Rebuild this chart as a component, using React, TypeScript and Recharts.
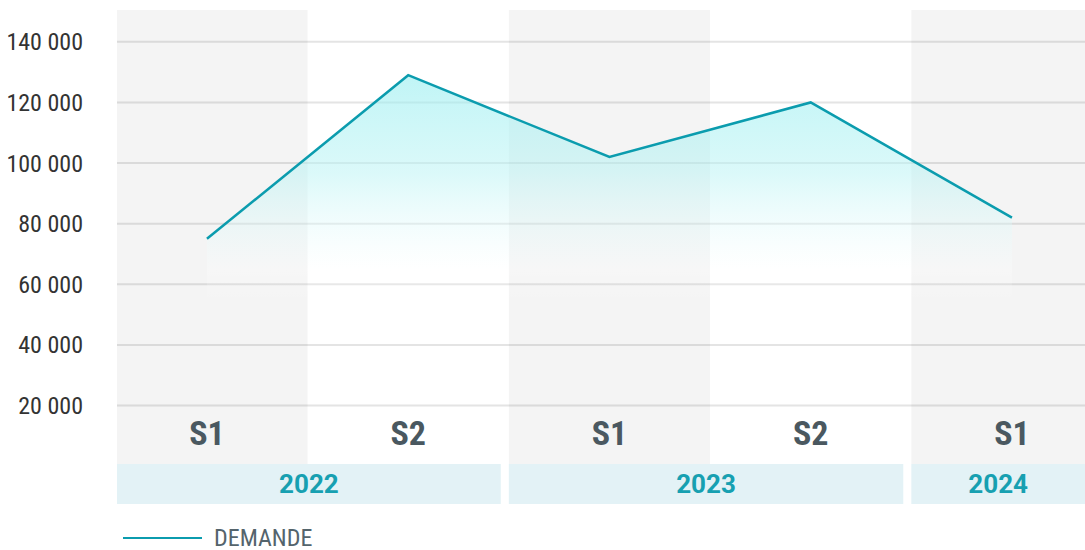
import {
  ComposedChart,
  Area,
  XAxis,
  YAxis,
  CartesianGrid,
  ReferenceArea,
  Legend,
} from "recharts";

// semesters, in display order
const semesters = ["S1", "S2", "S1", "S2", "S1"];
const semesterYears = [2022, 2022, 2023, 2023, 2024];
const demande = [75000, 129000, 102000, 120000, 82000];

const years = [2022, 2023, 2024];
const yTicks = [20000, 40000, 60000, 80000, 100000, 120000, 140000];

const data = semesters.map((s, i) => ({
  idx: i,
  semester: s,
  year: semesterYears[i],
  demande: demande[i],
}));

// x domain is a bit wider than the points so the outer bands get cut off
const X_MIN = -0.447;
const X_MAX = 4.363;
const Y_MIN = -12500;
const Y_MAX = 150500;
const BAND_FLOOR = 700;
const YEAR_GAP = 0.04;

const LINE = "#0b9cae";
const FONT = "Roboto, 'Noto Sans', sans-serif";

const fmt = (v: number) => v.toLocaleString("fr-FR").replace(/\u202f|\u00a0/g, " ");

function SemesterTick({ x, y, payload }: { x?: number; y?: number; payload?: { value: number } }) {
  const label = semesters[payload?.value ?? 0];
  return (
    <text
      x={x}
      y={(y ?? 0) - 71}
      textAnchor="middle"
      dominantBaseline="central"
      fill="#4a5860"
      fontSize={34}
      fontWeight={700}
      fontFamily={FONT}
      style={{ fontStretch: "condensed" }}
    >
      {label}
    </text>
  );
}

function LegendContent() {
  return (
    <div style={{ height: 26, position: "relative", fontFamily: FONT }}>
      <div
        style={{
          position: "absolute",
          left: 123,
          top: 13,
          width: 79,
          height: 2,
          background: LINE,
        }}
      />
      <div
        style={{
          position: "absolute",
          left: 214,
          top: 2,
          fontSize: 24,
          lineHeight: "24px",
          color: "#54646c",
          fontStretch: "semi-condensed",
          whiteSpace: "nowrap",
        }}
      >
        DEMANDE
      </div>
    </div>
  );
}

export default function App() {
  const yearSpans = years.map((yr) => {
    const idxs = data.filter((d) => d.year === yr).map((d) => d.idx);
    return {
      year: yr,
      x1: Math.max(Math.min(...idxs) - 0.5, X_MIN),
      x2: Math.min(Math.max(...idxs) + 0.5 - YEAR_GAP, X_MAX),
    };
  });
  const grayBands = data
    .filter((d) => d.semester === "S1")
    .map((d) => ({ x1: Math.max(d.idx - 0.5, X_MIN), x2: Math.min(d.idx + 0.5, X_MAX) }));

  return (
    <div style={{ position: "absolute", left: 0, top: 0, background: "#fff" }}>
      <ComposedChart
        width={1085}
        height={550}
        data={data}
        margin={{ top: 10, right: 0, bottom: 0, left: 0 }}
      >
        <defs>
          <linearGradient id="demandeFill" x1="0" y1="0" x2="0" y2="1">
            <stop offset="0%" stopColor="#96eef0" stopOpacity={1} />
            <stop offset="25%" stopColor="#b8f3f4" stopOpacity={0.85} />
            <stop offset="50%" stopColor="#ffffff" stopOpacity={0.45} />
            <stop offset="58%" stopColor="#ffffff" stopOpacity={0} />
          </linearGradient>
        </defs>
        <CartesianGrid vertical={false} stroke="#e4e4e4" strokeWidth={2} horizontalValues={yTicks} />
        {grayBands.map((b, i) => (
          <ReferenceArea
            key={"band" + i}
            x1={b.x1}
            x2={b.x2}
            y1={BAND_FLOOR}
            y2={Y_MAX}
            fill="#000"
            fillOpacity={0.045}
            stroke="none"
            ifOverflow="hidden"
          />
        ))}
        {yearSpans.map((s) => (
          <ReferenceArea
            key={s.year}
            x1={s.x1}
            x2={s.x2}
            y1={Y_MIN}
            y2={BAND_FLOOR}
            fill="#e3f2f6"
            fillOpacity={1}
            stroke="none"
            ifOverflow="hidden"
            label={{
              value: String(s.year),
              position: "center",
              fill: "#17a0b1",
              fontSize: 26,
              fontWeight: 700,
              fontFamily: FONT,
            }}
          />
        ))}
        <XAxis
          type="number"
          dataKey="idx"
          domain={[X_MIN, X_MAX]}
          ticks={[0, 1, 2, 3, 4]}
          allowDataOverflow
          axisLine={false}
          tickLine={false}
          tickSize={0}
          tickMargin={0}
          height={20}
          interval={0}
          tick={<SemesterTick />}
        />
        <YAxis
          domain={[Y_MIN, Y_MAX]}
          ticks={yTicks}
          allowDataOverflow
          width={117}
          axisLine={false}
          tickLine={false}
          tickSize={0}
          tickMargin={34}
          tickFormatter={fmt}
          tick={{ fill: "#333", fontSize: 24, fontFamily: FONT, style: { fontStretch: "semi-condensed" } }}
        />
        <Area
          type="linear"
          dataKey="demande"
          name="DEMANDE"
          stroke={LINE}
          strokeWidth={2.5}
          fill="url(#demandeFill)"
          dot={false}
          activeDot={false}
          isAnimationActive={false}
        />
        <Legend verticalAlign="bottom" height={26} content={<LegendContent />} />
      </ComposedChart>
    </div>
  );
}
